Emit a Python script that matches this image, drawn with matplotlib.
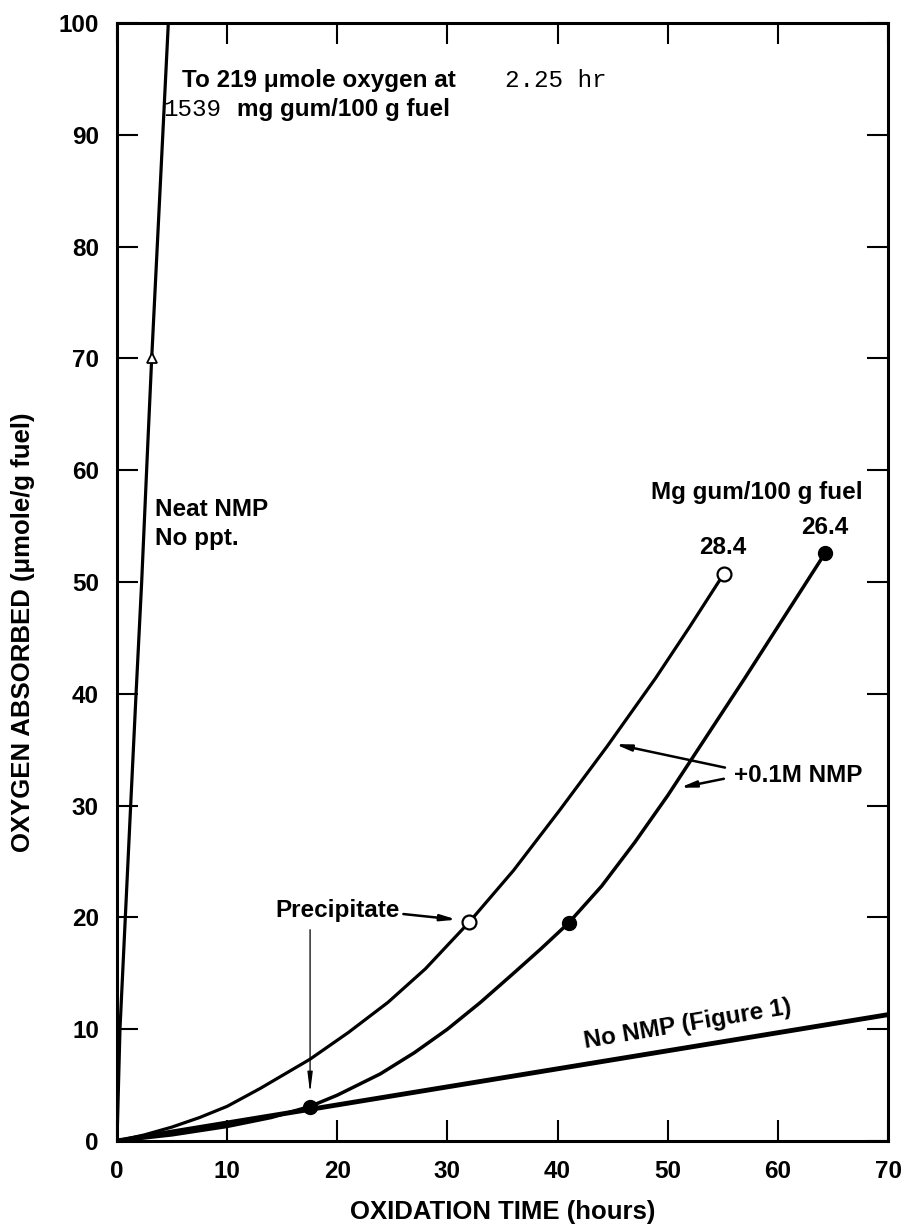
import matplotlib
matplotlib.use('Agg')
import matplotlib.pyplot as plt

plt.rcParams['font.family'] = ['Liberation Sans', 'DejaVu Sans']
plt.rcParams['font.weight'] = 'bold'
plt.rcParams['axes.labelweight'] = 'bold'

# DATA
neat_x = [0, 0.27, 1.24, 1.73, 2.24, 2.78, 3.15, 4.66]
neat_y = [0, 10, 30, 40, 50, 62, 70, 100]
neat_mark = (3.15, 70)

open_x = [0, 2.5, 5, 7.5, 10, 13, 17.5, 21, 24.6, 28, 32, 36, 40.2, 44.5, 48.9, 52, 55.07]
open_y = [0, 0.55, 1.25, 2.1, 3.1, 4.7, 7.3, 9.7, 12.4, 15.4, 19.6, 24.2, 29.6, 35.3, 41.4, 46.0, 50.7]
open_mark_x = [32, 55.07]
open_mark_y = [19.6, 50.7]

filled_x = [0, 5, 10, 14, 17.5, 20, 23.9, 27, 30, 33, 36, 38.5, 41, 44, 47, 50, 53, 57, 64.3]
filled_y = [0, 0.55, 1.3, 2.1, 3.08, 4.1, 6.0, 7.9, 10.0, 12.4, 15.0, 17.2, 19.5, 22.8, 26.7, 30.9, 35.4, 41.4, 52.6]
filled_mark_x = [17.5, 41, 64.3]
filled_mark_y = [3.08, 19.5, 52.6]

nonmp_x = [0, 70]
nonmp_y = [0, 11.3]

x_ticks = [0, 10, 20, 30, 40, 50, 60, 70]
y_ticks = [0, 10, 20, 30, 40, 50, 60, 70, 80, 90, 100]

FS = 17.5

fig = plt.figure(figsize=(9.08, 12.32), dpi=100)
ax = fig.add_axes([117/908, 1 - 1141/1232, (888-117)/908, (1141-23)/1232])

ax.plot(neat_x, neat_y, color='black', lw=2.3, solid_capstyle='butt')
ax.plot(*neat_mark, marker='^', ms=7, mfc='white', mec='black', mew=1.3, zorder=5)

ax.plot(nonmp_x, nonmp_y, color='black', lw=3.5)
ax.plot(open_x, open_y, color='black', lw=2.3)
ax.plot(filled_x, filled_y, color='black', lw=2.5)
ax.plot(open_mark_x, open_mark_y, 'o', ms=10, mfc='white', mec='black', mew=1.6, zorder=5)
ax.plot(filled_mark_x, filled_mark_y, 'o', ms=10, mfc='black', mec='black', zorder=5)

ax.set_xlim(0, 70)
ax.set_ylim(0, 100)
ax.set_xticks(x_ticks)
ax.set_yticks(y_ticks)
ax.tick_params(direction='in', length=15, width=1.5, top=True, right=True,
               labelsize=FS)
ax.tick_params(axis='y', pad=13)
ax.tick_params(axis='x', pad=14)
for s in ax.spines.values():
    s.set_linewidth(2.2)

ax.set_xlabel('OXIDATION TIME (hours)', fontsize=18.5)
ax.xaxis.set_label_coords(0.5, -0.053)
ax.set_ylabel('OXYGEN ABSORBED (\u03bcmole/g fuel)', fontsize=18.5)
ax.yaxis.set_label_coords(-0.106, 0.455)

# annotations
ax.text(5.9, 94.9, 'To 219 \u03bcmole oxygen at', fontsize=FS, va='center')
ax.text(35.2, 94.9, '2.25 hr', fontsize=FS, va='center',
        family='Liberation Mono', weight='normal')
ax.text(4.2, 92.3, '1539', fontsize=FS, va='center',
        family='Liberation Mono', weight='normal')
ax.text(10.9, 92.3, 'mg gum/100 g fuel', fontsize=FS, va='center')

ax.text(3.45, 56.5, 'Neat NMP', fontsize=FS, va='center')
ax.text(3.45, 53.9, 'No ppt.', fontsize=FS, va='center')

ax.text(48.5, 58.0, 'Mg gum/100 g fuel', fontsize=FS, va='center')
ax.text(55.0, 53.1, '28.4', fontsize=FS, va='center', ha='center')
ax.text(64.3, 54.85, '26.4', fontsize=FS, va='center', ha='center')

ax.text(56.0, 32.7, '+0.1M NMP', fontsize=FS, va='center')
head = dict(arrowstyle='-|>,head_length=0.9,head_width=0.18', color='black',
            lw=1.8, shrinkA=0, shrinkB=0)
ax.annotate('', xy=(45.2, 35.5), xytext=(55.2, 33.4), arrowprops=head)
ax.annotate('', xy=(51.1, 31.6), xytext=(55.1, 32.4), arrowprops=head)

ax.text(14.4, 20.6, 'Precipitate', fontsize=FS, va='center')
ax.annotate('', xy=(30.85, 19.8), xytext=(26.0, 20.3), arrowprops=head)
thin = dict(arrowstyle='-|>,head_length=1.2,head_width=0.15', color='black',
            lw=0.9, shrinkA=0, shrinkB=0)
ax.annotate('', xy=(17.53, 4.3), xytext=(17.53, 18.9), arrowprops=thin)

ax.text(42.6, 7.9, 'No NMP (Figure 1)', fontsize=FS, rotation=9.5,
        rotation_mode='anchor', va='bottom', ha='left')

fig.savefig('out.png', dpi=100)
